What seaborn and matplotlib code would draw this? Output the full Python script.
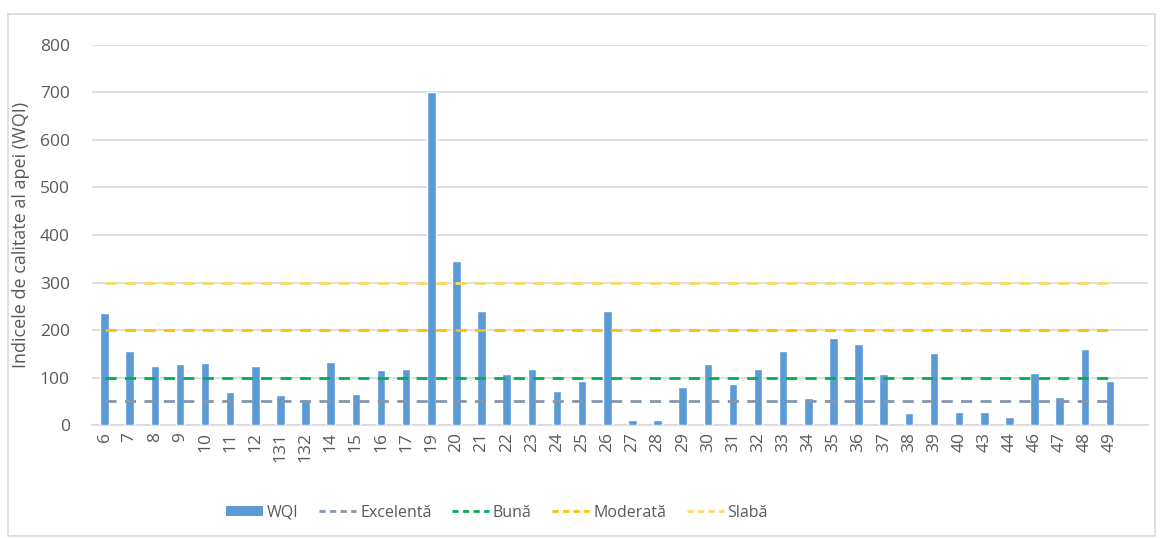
import numpy as np
import pandas as pd
import matplotlib
matplotlib.use("Agg")
import matplotlib.pyplot as plt
from matplotlib.patches import Rectangle, Patch
from matplotlib.lines import Line2D
import seaborn as sns

# Sampling points and their water quality index
stations = ["6", "7", "8", "9", "10", "11", "12", "131", "132", "14", "15", "16", "17",
            "19", "20", "21", "22", "23", "24", "25", "26", "27", "28", "29", "30",
            "31", "32", "33", "34", "35", "36", "37", "38", "39", "40", "43", "44",
            "46", "47", "48", "49"]
wqi = [235, 156, 124, 128, 130, 69, 124, 63, 55, 133, 66, 116, 118,
       700, 346, 241, 107, 118, 71, 92, 241, 10, 10, 81, 128,
       86, 118, 156, 57, 183, 171, 107, 25, 151, 28, 28, 16,
       110, 60, 160, 92]

# Class thresholds
class_names = ["Excelentă", "Bună", "Moderată", "Slabă"]
class_limits = [50, 100, 200, 300]
class_colors = ["#8497B0", "#00B050", "#FFC000", "#FFD966"]

bar_color = "#5B9BD5"
text_color = "#595959"
grid_color = "#D9D9D9"

sns.set_theme(style="white")
plt.rcParams["font.family"] = ["Open Sans", "DejaVu Sans"]

fig = plt.figure(figsize=(11.64, 5.38), dpi=100)
ax = fig.add_axes([0.079, 0.21, 0.907, 0.7064])

df = pd.DataFrame({"station": stations, "wqi": wqi})
sns.barplot(data=df, x="station", y="wqi", order=stations, color=bar_color,
            saturation=1, width=0.34, ax=ax, zorder=3)

pos = np.arange(len(stations))
for name, lim, col in zip(class_names, class_limits, class_colors):
    ax.plot(pos, [lim] * len(pos), color=col, lw=2.0, dashes=(4, 3), zorder=4)

ax.set_ylim(0, 800)
ax.set_xlim(-0.5, len(stations) + 0.5)
ax.set_yticks(np.arange(0, 801, 100))
ax.yaxis.grid(True, color=grid_color, lw=1.2, zorder=0)
ax.set_axisbelow(True)
for s in ["top", "right", "left"]:
    ax.spines[s].set_visible(False)
ax.spines["bottom"].set_color(grid_color)
ax.spines["bottom"].set_linewidth(1.2)
ax.tick_params(axis="both", length=0, colors=text_color, labelsize=12.5, pad=5)
ax.tick_params(axis="y", pad=16)
plt.setp(ax.get_xticklabels(), rotation=90)
ax.set_xlabel("")
ax.set_ylabel("Indicele de calitate al apei (WQI)", fontsize=13, color=text_color,
              labelpad=7)

handles = [Patch(facecolor=bar_color, edgecolor="none", label="WQI")]
for name, col in zip(class_names, class_colors):
    handles.append(Line2D([0], [0], color=col, lw=2.0, dashes=(2.2, 1.6), label=name))
fig.legend(handles=handles, loc="center", bbox_to_anchor=(0.427, 0.047), ncol=5,
           frameon=False, fontsize=11.5,
           handlelength=2.3, handleheight=0.65,
           columnspacing=1.3, handletextpad=0.25, labelcolor=text_color)

fig.patches.append(Rectangle((8 / 1164, 2 / 538), 1147 / 1164, 522 / 538,
                             transform=fig.transFigure, fill=False,
                             edgecolor="#D9D9D9", lw=1.2))

fig.savefig("out.png", dpi=100)
